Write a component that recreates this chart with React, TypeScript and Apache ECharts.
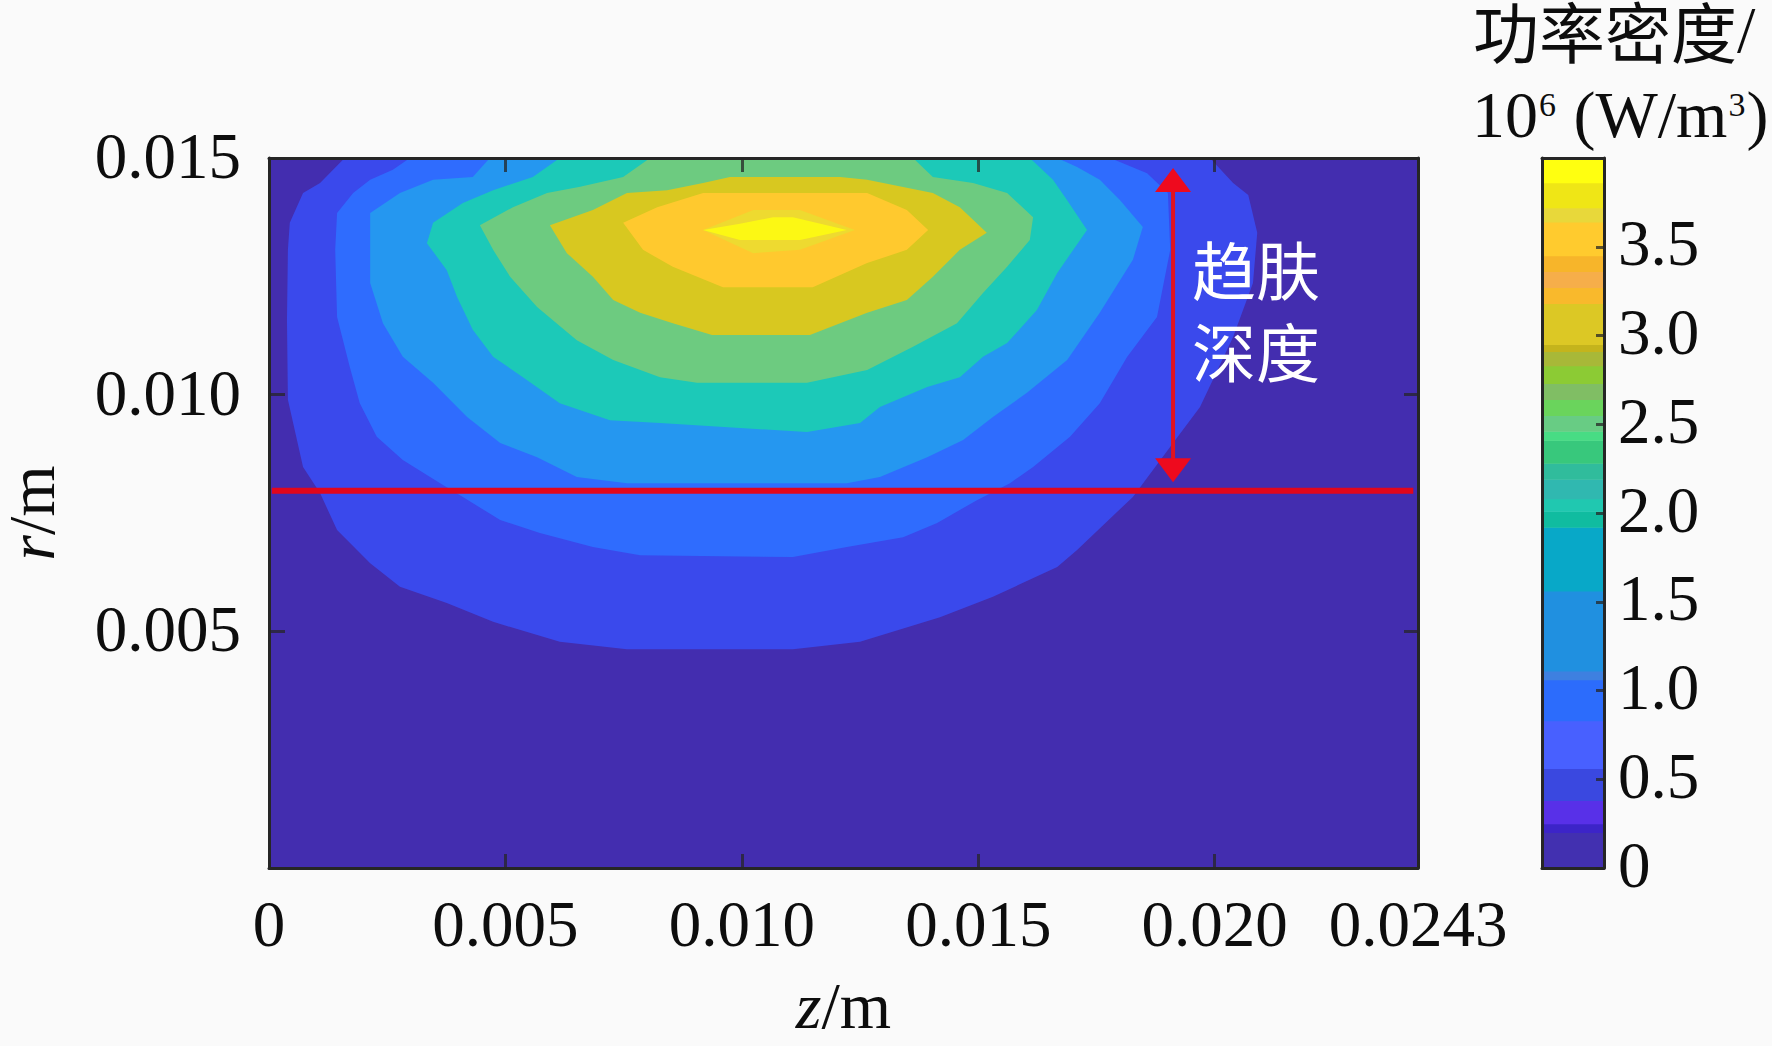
import React, { useEffect, useRef } from "react";
import * as echarts from "echarts";

// Axes (metres)
const zTicks = [0, 0.005, 0.01, 0.015, 0.02, 0.0243];
const zTickLabels = ["0", "0.005", "0.010", "0.015", "0.020", "0.0243"];
const rTicks = [0.005, 0.01, 0.015];
const rTickLabels = ["0.005", "0.010", "0.015"];
const cbTicks = [0, 0.5, 1, 1.5, 2, 2.5, 3, 3.5];
const cbTickLabels = ["0", "0.5", "1.0", "1.5", "2.0", "2.5", "3.0", "3.5"];

// Filled contour regions, [z mm, r mm], lowest level first
const level0 = [[0, 0], [24.3, 0], [24.3, 15], [0, 15]];
const level1 = [[1.6, 15], [1.08, 14.47], [0.72, 14.26], [0.44, 13.63], [0.4, 13.06], [0.38, 11.58], [0.4, 9.89], [0.72, 8.47], [1.08, 7.92], [1.44, 7.14], [2.14, 6.44], [2.77, 5.94], [3.76, 5.6], [4.74, 5.2], [6.15, 4.78], [7.57, 4.62], [11.08, 4.62], [12.5, 4.78], [14.19, 5.3], [15.31, 5.73], [16.67, 6.36], [17.09, 6.72], [18.27, 7.84], [19.12, 8.98], [19.69, 9.74], [20.39, 11.22], [20.81, 12.36], [20.9, 13.42], [20.71, 14.22], [20.39, 14.47], [19.9, 15]];
const level2 = [[2.98, 15], [2.62, 14.75], [2.14, 14.54], [1.78, 14.26], [1.44, 13.84], [1.4, 13.06], [1.44, 11.64], [1.71, 10.58], [1.92, 9.82], [2.28, 9.11], [2.83, 8.62], [3.62, 8.13], [4.1, 7.84], [4.89, 7.35], [5.73, 7.08], [6.85, 6.78], [7.85, 6.61], [11.08, 6.57], [12.22, 6.78], [13.41, 6.99], [14.13, 7.29], [14.97, 7.77], [15.67, 8.13], [16.16, 8.47], [16.94, 9.11], [17.57, 9.82], [18.15, 10.8], [18.78, 11.64], [19.06, 13.06], [19.01, 14.26], [18.57, 14.68], [17.79, 15]];
const level3 = [[4.67, 15], [4.31, 14.6], [3.47, 14.54], [2.77, 14.26], [2.14, 13.84], [2.14, 12.36], [2.41, 11.51], [2.83, 10.8], [3.47, 10.25], [4.19, 9.53], [4.89, 8.98], [5.67, 8.68], [6.51, 8.26], [7.57, 8.13], [12.22, 8.13], [12.92, 8.26], [13.92, 8.68], [14.68, 9.04], [15.31, 9.53], [16.03, 10.04], [16.88, 10.73], [17.57, 11.73], [18.27, 12.85], [18.48, 13.54], [18.0, 14.11], [17.57, 14.54], [17.09, 14.81], [16.67, 15]];
const level4 = [[6.15, 15], [5.58, 14.6], [4.74, 14.32], [4.1, 14.05], [3.47, 13.63], [3.34, 13.2], [3.76, 12.63], [3.98, 12.06], [4.31, 11.37], [4.74, 10.8], [5.37, 10.37], [6.15, 9.82], [7.21, 9.46], [8.27, 9.4], [11.38, 9.21], [12.5, 9.4], [12.92, 9.74], [13.92, 10.16], [14.61, 10.37], [15.1, 10.8], [15.61, 11.09], [16.24, 11.79], [16.67, 12.57], [17.3, 13.48], [16.88, 14.11], [16.58, 14.54], [16.09, 15]];
const level5 = [[8.06, 15], [7.49, 14.6], [6.58, 14.39], [5.88, 14.26], [5.16, 13.96], [4.46, 13.58], [4.74, 13.06], [5.1, 12.49], [5.67, 11.85], [6.51, 11.15], [7.28, 10.73], [8.27, 10.37], [9.05, 10.25], [11.38, 10.25], [12.65, 10.52], [13.62, 11.01], [14.55, 11.51], [15.1, 12.15], [15.61, 12.7], [16.09, 13.27], [16.16, 13.75], [15.61, 14.26], [14.89, 14.47], [14.04, 14.6], [13.62, 15]];
const level6 = [[8.42, 14.32], [7.57, 14.26], [6.85, 13.9], [5.94, 13.58], [6.3, 12.99], [6.85, 12.49], [7.28, 12.0], [7.85, 11.73], [8.54, 11.51], [9.37, 11.26], [11.44, 11.26], [12.65, 11.73], [13.49, 12.0], [14.04, 12.49], [14.61, 13.06], [15.18, 13.42], [14.61, 13.96], [14.04, 14.26], [12.65, 14.54], [12.08, 14.6], [9.75, 14.6], [9.18, 14.47]];
const level7 = [[7.49, 13.63], [7.91, 13.06], [8.54, 12.7], [9.6, 12.27], [11.5, 12.27], [12.65, 12.78], [13.49, 13.06], [13.94, 13.48], [13.49, 13.9], [12.65, 14.26], [9.18, 14.26], [8.21, 13.96]];
const level8 = [[9.18, 13.48], [10.24, 13.9], [11.23, 13.9], [12.39, 13.48], [11.23, 13.06], [10.24, 12.99]];
const level9 = [[9.18, 13.48], [9.96, 13.61], [10.66, 13.75], [11.08, 13.75], [12.22, 13.48], [11.23, 13.27], [9.96, 13.27]];
const contourLevels = [level0, level1, level2, level3, level4, level5, level6, level7, level8, level9];
const contourColors = ["#432DAF", "#3A49EC", "#2F6CFE", "#2597F0", "#1CC9B8", "#6DCB80", "#D8C820", "#FFC92E", "#EEDA30", "#FCF814"];

// Skin-depth markers
const depthLineZ = [0.00006, 0.0242];
const depthLineR = 0.00797;
const arrowZ = 0.01912;
const arrowR = [0.00815, 0.01479];

// Colour bar bands (10^6 W/m^3)
const cbEdges = [0, 0.2, 0.25, 0.38, 0.56, 0.83, 1.06, 1.11, 1.56, 1.92, 2.01, 2.08, 2.19, 2.28, 2.41, 2.46, 2.55, 2.64, 2.73, 2.83, 2.91, 2.95, 3.18, 3.27, 3.36, 3.45, 3.64, 3.72, 3.86, 4];
const cbColors = ["#4230B0", "#3C24C8", "#5830E8", "#3A48E0", "#4860FF", "#2C6CFC", "#3E80E0", "#2090E0", "#08A8C8", "#10BCA0", "#20C8B0", "#30B8B0", "#30BC9C", "#38C87C", "#48DC84", "#68CC84", "#6AD45C", "#80BE64", "#8CCB34", "#A8B838", "#C4B41C", "#DCC825", "#F9B92C", "#F6AE4A", "#F7B52A", "#FFCB2E", "#E8D83A", "#EFE616", "#FFFF10"];

const SERIF = '"Liberation Serif", serif';
const CJK = '"Noto Sans CJK SC", sans-serif';
const INK = "#0d0d0d";
const LINE = "#262626";
const FS = 65;

function App() {
  const ref = useRef<HTMLDivElement>(null);
  useEffect(() => {
    const chart = echarts.init(ref.current!, null, { renderer: "svg" });
    const tick = (len: number, values: number[]) => ({
      show: true, inside: true, length: len, customValues: values,
      lineStyle: { color: LINE, width: 3, opacity: 0.75 },
    });
    const line = { show: true, onZero: false, lineStyle: { color: LINE, width: 3 } };
    const nameRich = {
      i: { fontFamily: SERIF, fontStyle: "italic", fontSize: 66, color: INK },
      n: { fontFamily: SERIF, fontSize: 66, color: INK },
    };
    const raised = (pb: number) => ({
      t: { fontFamily: SERIF, fontSize: FS, color: INK, padding: [0, 0, pb, 0] },
    });
    const option: any = {
      animation: false,
      backgroundColor: "#FAFAFA",
      grid: [
        { left: 269, top: 158, width: 1149, height: 710, outerBoundsMode: "none" },
        { left: 1542, top: 158, width: 62, height: 710, outerBoundsMode: "none" },
      ],
      xAxis: [
        {
          type: "value", gridIndex: 0, position: "bottom", min: 0, max: 0.0243, z: 10,
          axisLine: line, axisTick: tick(14, zTicks), splitLine: { show: false },
          axisLabel: {
            customValues: zTicks, margin: 23, fontFamily: SERIF, fontSize: FS, color: INK, hideOverlap: false,
            formatter: (v: number) => zTickLabels[zTicks.indexOf(v)] ?? "",
          },
          name: "{i|z}{n|/m}", nameLocation: "middle", nameGap: 104, nameTextStyle: { rich: nameRich },
        },
        {
          type: "value", gridIndex: 0, position: "top", min: 0, max: 0.0243, z: 10,
          axisLine: line, axisTick: tick(14, zTicks), axisLabel: { show: false }, splitLine: { show: false },
        },
        { type: "value", gridIndex: 1, position: "bottom", min: 0, max: 1, z: 10, axisLine: line, axisTick: { show: false }, axisLabel: { show: false }, splitLine: { show: false } },
        { type: "value", gridIndex: 1, position: "top", min: 0, max: 1, z: 10, axisLine: line, axisTick: { show: false }, axisLabel: { show: false }, splitLine: { show: false } },
      ],
      yAxis: [
        {
          type: "value", gridIndex: 0, position: "left", min: 0, max: 0.015, z: 10,
          axisLine: line, axisTick: tick(16, rTicks), splitLine: { show: false },
          axisLabel: {
            customValues: rTicks, margin: 28, hideOverlap: false, rich: raised(4),
            formatter: (v: number) => `{t|${rTickLabels[rTicks.indexOf(v)] ?? ""}}`,
          },
          name: "{i|r}{n|/m}", nameLocation: "middle", nameGap: 205, nameTextStyle: { rich: nameRich },
        },
        {
          type: "value", gridIndex: 0, position: "right", min: 0, max: 0.015, z: 10,
          axisLine: line, axisTick: tick(14, rTicks), axisLabel: { show: false }, splitLine: { show: false },
        },
        { type: "value", gridIndex: 1, position: "left", min: 0, max: 4, z: 10, axisLine: line, axisTick: { show: false }, axisLabel: { show: false }, splitLine: { show: false } },
        {
          type: "value", gridIndex: 1, position: "right", min: 0, max: 4, z: 10,
          axisLine: line, axisTick: tick(8, cbTicks), splitLine: { show: false },
          axisLabel: {
            customValues: cbTicks, margin: 14, hideOverlap: false, rich: raised(7),
            formatter: (v: number) => `{t|${cbTickLabels[cbTicks.indexOf(v)] ?? ""}}`,
          },
        },
      ],
      series: [
        {
          type: "custom", xAxisIndex: 0, yAxisIndex: 0, z: 2, silent: true, clip: true,
          data: contourLevels.map((_, i) => [i]),
          renderItem: (params: any, api: any) => ({
            type: "polygon",
            shape: { points: contourLevels[params.dataIndex].map(([z, r]) => api.coord([z / 1000, r / 1000])) },
            style: { fill: contourColors[params.dataIndex] },
          }),
        },
        {
          type: "line", xAxisIndex: 0, yAxisIndex: 0, z: 3, silent: true, showSymbol: false,
          data: depthLineZ.map((z) => [z, depthLineR]),
          lineStyle: { color: "#E2061C", width: 6 },
        },
        {
          type: "custom", xAxisIndex: 0, yAxisIndex: 0, z: 4, silent: true, clip: false,
          data: [[arrowZ, arrowR[0], arrowR[1]]],
          renderItem: (_: any, api: any) => {
            const b = api.coord([api.value(0), api.value(1)]);
            const t = api.coord([api.value(0), api.value(2)]);
            const red = { fill: "#EE0A1E" };
            return {
              type: "group",
              children: [
                { type: "line", shape: { x1: b[0], y1: b[1] - 20, x2: t[0], y2: t[1] + 20 }, style: { stroke: "#E2131F", lineWidth: 4 } },
                { type: "polygon", shape: { points: [[t[0], t[1]], [t[0] + 18, t[1] + 24], [t[0] - 18, t[1] + 24]] }, style: red },
                { type: "polygon", shape: { points: [[b[0], b[1]], [b[0] + 18, b[1] - 24], [b[0] - 18, b[1] - 24]] }, style: red },
              ],
            };
          },
        },
        {
          type: "custom", xAxisIndex: 2, yAxisIndex: 2, z: 2, silent: true, clip: true,
          data: cbColors.map((_, i) => [i]),
          renderItem: (params: any, api: any) => {
            const i = params.dataIndex;
            const a = api.coord([0, cbEdges[i]]);
            const b = api.coord([1, cbEdges[i + 1]]);
            return {
              type: "rect",
              shape: { x: a[0], y: b[1], width: b[0] - a[0], height: a[1] - b[1] + 0.5 },
              style: { fill: cbColors[i] },
            };
          },
        },
      ],
      graphic: [
        { type: "text", x: 1192, y: 226, z: 20, style: { text: "趋肤\n深度", fontFamily: CJK, fontSize: 64, lineHeight: 82, fill: "#FFFFFF" } },
        {
          type: "text", x: 1473, y: -4, z: 20,
          style: {
            text: "{c|功率密度}{n|/}",
            rich: {
              c: { fontFamily: CJK, fontSize: 66, lineHeight: 66, fill: INK },
              n: { fontFamily: SERIF, fontSize: 66, lineHeight: 66, fill: INK },
            },
          },
        },
        {
          type: "text", x: 1472, y: 76, z: 20,
          style: {
            text: "{n|10}{s|6}{n| (W/m}{s|3}{n|)}",
            rich: {
              n: { fontFamily: SERIF, fontSize: 66, lineHeight: 76, fill: INK },
              s: { fontFamily: SERIF, fontSize: 34, lineHeight: 34, verticalAlign: "middle", padding: [0, 1, 20, 1], fill: INK },
            },
          },
        },
      ],
    };
    chart.setOption(option);
    return () => chart.dispose();
  }, []);
  return <div ref={ref} style={{ position: "fixed", left: 0, top: 0, width: 1772, height: 1046 }} />;
}

export default App;
